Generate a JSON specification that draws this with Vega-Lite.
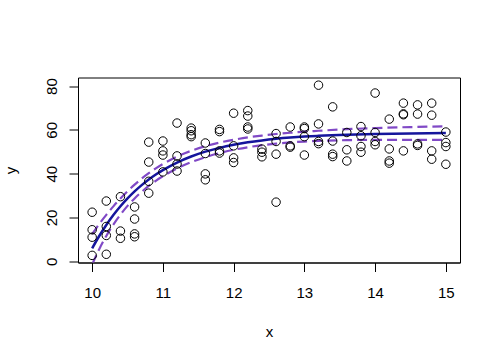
{
  "$schema": "https://vega.github.io/schema/vega-lite/v6.json",
  "width": 382,
  "height": 185,
  "autosize": {"type": "none"},
  "padding": {"left": 78, "top": 77.5, "right": 40, "bottom": 97.5},
  "background": "white",
  "config": {
    "font": "Liberation Sans",
    "view": {"stroke": "black", "strokeWidth": 1},
    "axis": {
      "grid": false,
      "domainColor": "black",
      "tickColor": "black",
      "labelColor": "black",
      "titleColor": "black",
      "labelFontSize": 15,
      "titleFontSize": 15,
      "titleFontWeight": "normal",
      "tickSize": 9,
      "labelFont": "Liberation Sans",
      "titleFont": "Liberation Sans"
    }
  },
  "datasets": {
    "pts": [
      {"x": 10, "y": 22.4}, {"x": 10, "y": 14.4}, {"x": 10, "y": 11.0}, {"x": 10, "y": 2.7},
      {"x": 10.2, "y": 27.5}, {"x": 10.2, "y": 15.9}, {"x": 10.2, "y": 11.8}, {"x": 10.2, "y": 3.2},
      {"x": 10.4, "y": 29.5}, {"x": 10.4, "y": 13.8}, {"x": 10.4, "y": 10.5},
      {"x": 10.6, "y": 24.8}, {"x": 10.6, "y": 19.3}, {"x": 10.6, "y": 12.5}, {"x": 10.6, "y": 11.2},
      {"x": 10.8, "y": 54.4}, {"x": 10.8, "y": 45.3}, {"x": 10.8, "y": 36.5}, {"x": 10.8, "y": 31.1},
      {"x": 11, "y": 54.9}, {"x": 11, "y": 50.4}, {"x": 11, "y": 48.5}, {"x": 11, "y": 40.8},
      {"x": 11.2, "y": 63.1}, {"x": 11.2, "y": 48.1}, {"x": 11.2, "y": 44.4}, {"x": 11.2, "y": 41.2},
      {"x": 11.4, "y": 60.8}, {"x": 11.4, "y": 59.6}, {"x": 11.4, "y": 57.8}, {"x": 11.4, "y": 56.9},
      {"x": 11.6, "y": 54.0}, {"x": 11.6, "y": 49.2}, {"x": 11.6, "y": 39.9}, {"x": 11.6, "y": 37.2},
      {"x": 11.8, "y": 60.2}, {"x": 11.8, "y": 59.2}, {"x": 11.8, "y": 50.4}, {"x": 11.8, "y": 49.4},
      {"x": 12, "y": 67.6}, {"x": 12, "y": 52.7}, {"x": 12, "y": 47.2}, {"x": 12, "y": 45.1},
      {"x": 12.2, "y": 68.8}, {"x": 12.2, "y": 66.3}, {"x": 12.2, "y": 61.3}, {"x": 12.2, "y": 60.4},
      {"x": 12.4, "y": 51.2}, {"x": 12.4, "y": 49.8}, {"x": 12.4, "y": 47.7},
      {"x": 12.6, "y": 58.3}, {"x": 12.6, "y": 54.7}, {"x": 12.6, "y": 48.9}, {"x": 12.6, "y": 27.0},
      {"x": 12.8, "y": 61.3}, {"x": 12.8, "y": 52.7}, {"x": 12.8, "y": 52.1},
      {"x": 13, "y": 61.3}, {"x": 13, "y": 60.6}, {"x": 13, "y": 56.9}, {"x": 13, "y": 48.5},
      {"x": 13.2, "y": 80.4}, {"x": 13.2, "y": 62.7}, {"x": 13.2, "y": 54.7}, {"x": 13.2, "y": 53.7},
      {"x": 13.4, "y": 70.5}, {"x": 13.4, "y": 54.9}, {"x": 13.4, "y": 48.9}, {"x": 13.4, "y": 47.8},
      {"x": 13.6, "y": 58.8}, {"x": 13.6, "y": 50.9}, {"x": 13.6, "y": 45.8},
      {"x": 13.8, "y": 61.5}, {"x": 13.8, "y": 57.3}, {"x": 13.8, "y": 52.4}, {"x": 13.8, "y": 49.8},
      {"x": 14, "y": 76.8}, {"x": 14, "y": 58.8}, {"x": 14, "y": 54.7}, {"x": 14, "y": 53.2},
      {"x": 14.2, "y": 64.9}, {"x": 14.2, "y": 51.3}, {"x": 14.2, "y": 45.8}, {"x": 14.2, "y": 44.8},
      {"x": 14.4, "y": 72.2}, {"x": 14.4, "y": 67.3}, {"x": 14.4, "y": 66.9}, {"x": 14.4, "y": 50.4},
      {"x": 14.6, "y": 71.4}, {"x": 14.6, "y": 67.2}, {"x": 14.6, "y": 53.6}, {"x": 14.6, "y": 52.9},
      {"x": 14.8, "y": 72.2}, {"x": 14.8, "y": 66.7}, {"x": 14.8, "y": 50.4}, {"x": 14.8, "y": 46.6},
      {"x": 15, "y": 59.0}, {"x": 15, "y": 54.2}, {"x": 15, "y": 52.4}, {"x": 15, "y": 44.3}
    ],
    "curve": [
      {"x": 10.0, "fit": 5.9, "lo": -1.5, "hi": 12.4},
      {"x": 10.1, "fit": 11.54, "lo": 5.54, "hi": 17.04},
      {"x": 10.2, "fit": 16.58, "lo": 11.58, "hi": 21.18},
      {"x": 10.3, "fit": 21.08, "lo": 16.78, "hi": 25.08},
      {"x": 10.4, "fit": 25.10, "lo": 21.30, "hi": 28.70},
      {"x": 10.5, "fit": 28.69, "lo": 25.29, "hi": 31.99},
      {"x": 10.6, "fit": 31.90, "lo": 28.70, "hi": 35.00},
      {"x": 10.7, "fit": 34.76, "lo": 31.70, "hi": 37.76},
      {"x": 10.8, "fit": 37.32, "lo": 34.42, "hi": 40.22},
      {"x": 10.9, "fit": 39.60, "lo": 36.75, "hi": 42.45},
      {"x": 11.0, "fit": 41.64, "lo": 38.84, "hi": 44.44},
      {"x": 11.2, "fit": 45.09, "lo": 42.39, "hi": 47.79},
      {"x": 11.4, "fit": 47.84, "lo": 45.24, "hi": 50.44},
      {"x": 11.6, "fit": 50.04, "lo": 47.54, "hi": 52.54},
      {"x": 11.8, "fit": 51.79, "lo": 49.39, "hi": 54.19},
      {"x": 12.0, "fit": 53.19, "lo": 50.89, "hi": 55.49},
      {"x": 12.2, "fit": 54.31, "lo": 52.06, "hi": 56.56},
      {"x": 12.4, "fit": 55.19, "lo": 52.99, "hi": 57.39},
      {"x": 12.6, "fit": 55.90, "lo": 53.70, "hi": 58.10},
      {"x": 12.8, "fit": 56.47, "lo": 54.27, "hi": 58.67},
      {"x": 13.0, "fit": 56.92, "lo": 54.67, "hi": 59.17},
      {"x": 13.2, "fit": 57.28, "lo": 54.98, "hi": 59.58},
      {"x": 13.6, "fit": 57.80, "lo": 55.30, "hi": 60.30},
      {"x": 14.0, "fit": 58.12, "lo": 55.42, "hi": 60.82},
      {"x": 14.5, "fit": 58.37, "lo": 55.47, "hi": 61.27},
      {"x": 15.0, "fit": 58.52, "lo": 55.42, "hi": 61.62}
    ]
  },
  "encoding": {
    "x": {
      "field": "x", "type": "quantitative",
      "scale": {"domain": [9.8, 15.2], "nice": false, "zero": false},
      "axis": {"values": [10, 11, 12, 13, 14, 15], "labelPadding": 14, "labelBaseline": "top", "title": "x", "titleY": 73.5, "titleBaseline": "alphabetic"}
    }
  },
  "layer": [
    {
      "data": {"name": "curve"},
      "mark": {"type": "line", "clip": true, "color": "#8049c6", "strokeWidth": 2.2, "strokeDash": [10, 5], "interpolate": "monotone"},
      "encoding": {
        "y": {"field": "lo", "type": "quantitative",
          "scale": {"domain": [-0.55, 83.9], "nice": false, "zero": false},
          "axis": {"values": [0, 20, 40, 60, 80], "labelAngle": -90, "labelAlign": "center", "labelBaseline": "alphabetic", "labelPadding": 13, "title": "y", "titleAngle": -90, "titleX": -62.5, "titleY": 92.5, "titleAlign": "center", "titleBaseline": "alphabetic"}}
      }
    },
    {
      "data": {"name": "curve"},
      "mark": {"type": "line", "clip": true, "color": "#8049c6", "strokeWidth": 2.2, "strokeDash": [10, 5], "interpolate": "monotone"},
      "encoding": {"y": {"field": "hi", "type": "quantitative"}}
    },
    {
      "data": {"name": "curve"},
      "mark": {"type": "line", "clip": true, "color": "#15159c", "strokeWidth": 2.5, "interpolate": "monotone"},
      "encoding": {"y": {"field": "fit", "type": "quantitative"}}
    },
    {
      "data": {"name": "pts"},
      "mark": {"type": "point", "shape": "circle", "filled": false, "stroke": "black", "strokeWidth": 1, "size": 72, "opacity": 1},
      "encoding": {"y": {"field": "y", "type": "quantitative"}}
    }
  ]
}
